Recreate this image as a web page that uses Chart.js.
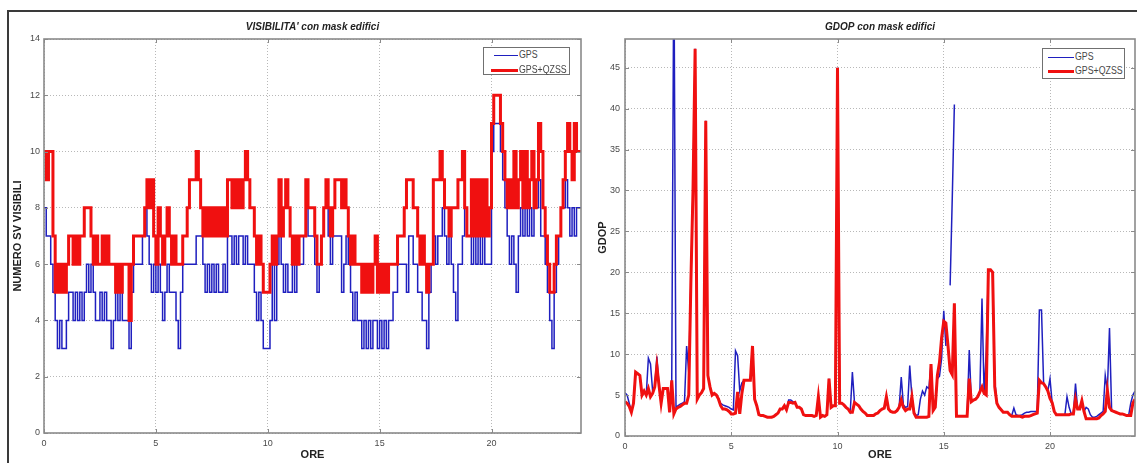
<!DOCTYPE html>
<html>
<head>
<meta charset="utf-8">
<script src="https://cdn.jsdelivr.net/npm/chart.js@4.4.0/dist/chart.umd.min.js"></script>
<style>
  html, body { margin: 0; padding: 0; background: #fff; }
  #wrap { position: relative; width: 1137px; height: 463px; overflow: hidden;
          font-family: "Liberation Sans", Arial, sans-serif; }
  #frame { position: absolute; left: 7px; top: 10px; width: 1145px; height: 470px;
           border: 2px solid #3a3a3a; box-sizing: border-box; }
  canvas { position: absolute; top: 0; }
  #cVis { left: 0; }
  #cGdop { left: 585px; }
  .legend { position: absolute; background: #fff; border: 1px solid #707070; box-sizing: border-box;
            font-size: 10px; color: #474747; }
  .legend .ln { position: absolute; height: 0; }
  .legend .tx { position: absolute; line-height: 12px; white-space: nowrap;
                transform: scaleX(0.88); transform-origin: 0 50%; }
</style>
</head>
<body>
<div id="wrap">
  <div id="frame"></div>
  <canvas id="cVis" width="585" height="463"></canvas>
  <canvas id="cGdop" width="552" height="463"></canvas>

  <div class="legend" style="left:483px; top:47px; width:87px; height:28px;">
    <div class="ln" style="left:10px; width:24px; top:7px; border-top:1.5px solid #1f1fbf;"></div>
    <div class="tx" style="left:35px; top:1px;">GPS</div>
    <div class="ln" style="left:7px; width:27px; top:21px; border-top:3px solid #f01010;"></div>
    <div class="tx" style="left:35px; top:16px;">GPS+QZSS</div>
  </div>
  <div class="legend" style="left:1042px; top:48px; width:83px; height:31px;">
    <div class="ln" style="left:5px; width:26px; top:8px; border-top:1.5px solid #1f1fbf;"></div>
    <div class="tx" style="left:32px; top:2px;">GPS</div>
    <div class="ln" style="left:5px; width:26px; top:21px; border-top:3px solid #f01010;"></div>
    <div class="tx" style="left:32px; top:16px;">GPS+QZSS</div>
  </div>
</div>

<script>
// one sample every 0.1 h, 10 values per hour row, last value at 24.0 h
const SAMPLE_STEP = 0.1;

// numero di satelliti visibili
const visGps = [
  8,7,7,6,5,4,3,4,3,3,
  4,5,5,4,5,4,5,4,5,6,
  5,6,5,4,4,5,4,5,4,4,
  3,4,5,4,5,4,4,4,3,5,
  6,6,6,6,7,8,7,6,5,6,
  5,6,5,4,5,6,5,5,5,4,
  3,5,6,6,6,6,6,6,7,7,
  7,6,5,6,5,6,5,6,5,5,
  6,5,7,7,6,7,6,7,7,6,
  7,6,6,6,5,4,5,4,3,3,
  3,4,6,4,6,7,6,5,6,5,
  5,6,5,6,6,6,7,8,7,7,
  7,6,5,6,7,8,8,7,6,7,
  7,7,7,5,6,7,6,5,4,5,
  4,4,3,4,3,4,3,4,4,3,
  4,3,4,3,4,4,5,5,6,6,
  6,6,5,7,7,6,6,5,5,4,
  4,3,5,6,7,6,7,7,8,7,
  6,7,6,5,4,6,6,7,8,7,
  7,6,7,6,7,6,7,6,6,6,
  10,11,11,11,10,9,8,7,6,7,
  6,5,7,8,7,8,7,8,7,8,
  8,9,7,7,6,5,4,3,5,6,
  7,8,8,9,8,7,8,7,8,8,
  8
];
const visGpsQzss = [
  10,9,10,10,7,5,6,5,6,5,
  6,7,7,6,7,6,7,7,8,8,
  8,7,6,7,6,6,7,6,7,6,
  6,6,5,6,5,6,6,6,4,6,
  7,7,7,7,7,8,9,8,9,7,
  6,8,7,6,7,8,7,6,7,6,
  6,6,7,7,8,9,9,9,10,9,
  8,7,8,7,8,7,8,7,8,7,
  8,7,9,9,8,9,8,9,8,9,
  10,9,8,8,7,6,7,6,5,5,
  5,6,7,6,7,9,7,8,9,8,
  7,6,7,6,7,7,7,9,8,8,
  8,7,6,6,7,8,9,8,7,8,
  9,9,9,8,9,8,7,6,7,6,
  6,6,5,6,5,6,5,6,7,5,
  6,5,6,5,6,6,6,6,7,7,
  7,8,9,9,9,8,8,7,6,7,
  6,5,6,6,9,9,9,10,9,8,
  8,7,8,8,8,9,9,10,8,7,
  7,9,7,9,7,9,7,9,7,8,
  11,12,12,12,11,10,9,8,9,8,
  10,8,9,10,8,10,8,9,10,8,
  9,11,10,8,7,6,5,5,6,7,
  7,8,9,10,11,10,9,11,10,10,
  10
];

// GDOP (null = soluzione non disponibile)
const gdopGps = [
  5.3,5.0,4.0,3.0,4.2,7.8,7.6,7.4,5.0,5.5,
  5.0,9.5,8.8,5.5,6.0,9.7,6.2,4.0,5.8,5.8,
  5.8,2.9,6.8,60,3.5,3.7,3.9,4.0,4.2,11.0,
  7.8,18.8,30.0,47.3,4.5,5.0,5.3,5.8,38.5,7.4,
  6.0,5.0,5.2,5.0,4.6,4.0,3.8,3.7,3.6,3.5,
  3.3,3.2,10.4,9.8,5.5,6.5,6.8,6.8,6.8,7.0,
  11.0,4.5,3.7,2.6,2.5,2.5,2.4,2.3,2.3,2.3,
  2.4,2.6,2.8,3.3,3.3,3.7,3.2,4.4,4.4,4.2,
  4.1,3.5,3.5,3.3,2.6,2.5,2.5,2.5,2.5,2.4,
  2.5,4.8,2.3,2.5,2.4,2.6,7.0,3.5,3.7,3.7,
  45.0,4.0,4.0,3.8,3.5,3.3,2.9,7.8,4.1,3.9,
  3.7,3.3,3.0,2.8,2.5,2.5,2.5,2.5,2.7,2.8,
  3.1,3.3,3.4,4.8,3.3,3.0,2.9,2.9,3.1,3.5,
  7.2,3.8,3.5,3.6,8.6,4.8,2.9,2.5,2.6,4.5,
  5.5,5.0,6.0,5.8,8.8,3.1,3.5,7.0,7.3,9.5,
  15.3,11.0,null,18.4,29.0,40.5,null,2.4,2.4,2.4,
  2.4,2.4,10.5,4.2,4.4,4.5,4.8,5.4,16.8,5.0,
  10.4,20.3,20.3,20.0,6.8,4.0,3.5,3.2,2.9,2.9,
  2.9,2.6,2.5,3.4,2.6,2.5,2.5,2.6,2.8,2.9,
  2.9,3.0,3.0,3.0,3.0,15.4,15.4,6.4,6.0,5.5,
  7.0,4.1,3.0,2.6,2.6,2.6,2.6,2.6,4.8,3.5,
  2.7,2.7,6.4,3.3,3.3,4.3,3.0,3.5,3.3,2.6,
  2.3,2.3,2.4,2.6,2.8,3.0,7.4,5.6,13.2,3.1,
  3.0,2.9,2.8,2.7,2.7,2.6,2.5,2.5,4.0,5.0,
  5.5
];
const gdopGpsQzss = [
  4.2,4.0,3.6,2.9,4.0,7.8,7.6,7.4,5.0,5.5,
  5.0,5.8,4.8,5.2,6.0,8.5,6.2,4.0,5.8,5.8,
  5.8,2.9,6.8,2.7,3.3,3.5,3.6,3.8,4.0,4.0,
  5.0,18.8,30.0,47.3,4.5,5.0,5.3,5.8,38.5,7.4,
  6.0,5.0,5.2,5.0,4.5,3.7,3.3,3.3,3.2,3.0,
  2.7,2.7,2.8,5.4,2.7,5.2,6.8,6.8,6.8,6.8,
  11.0,4.5,3.7,2.6,2.5,2.5,2.4,2.3,2.3,2.3,
  2.4,2.6,2.8,3.3,3.3,3.7,3.2,4.1,4.1,4.0,
  4.1,3.5,3.5,3.3,2.6,2.5,2.5,2.5,2.5,2.4,
  2.5,4.8,2.3,2.5,2.4,2.6,7.0,3.5,3.7,3.7,
  45.0,4.0,4.0,3.8,3.5,3.3,2.9,2.9,4.1,3.9,
  3.7,3.3,3.0,2.8,2.5,2.5,2.5,2.5,2.7,2.8,
  3.1,3.3,3.4,4.8,3.3,3.0,2.9,2.9,3.1,3.5,
  4.4,3.5,3.1,3.3,3.3,4.8,2.8,2.3,2.3,2.3,
  2.3,2.3,2.3,2.4,8.8,3.1,3.5,7.4,9.0,12.0,
  14.0,13.8,11.0,8.0,7.5,16.2,2.4,2.4,2.4,2.4,
  2.4,2.4,7.0,4.2,4.4,4.5,4.8,5.4,6.0,5.2,
  5.0,20.3,20.3,20.0,6.0,4.0,3.5,3.2,2.9,2.9,
  2.9,2.6,2.4,2.4,2.4,2.4,2.4,2.3,2.4,2.4,
  2.4,2.5,2.6,2.7,2.8,6.8,6.5,6.4,6.0,5.5,
  4.6,4.1,3.0,2.6,2.6,2.6,2.6,2.6,2.6,2.6,
  2.7,2.7,4.5,3.3,3.3,4.3,3.0,2.1,2.1,2.1,
  2.1,2.1,2.1,2.2,2.5,2.7,3.0,5.6,3.5,3.1,
  3.0,2.9,2.8,2.7,2.7,2.6,2.5,2.5,2.5,4.0,
  4.5
];

const hourTicks = [0, 5, 10, 15, 20];
const visTicks = [0, 2, 4, 6, 8, 10, 12, 14];
const gdopTicks = [0, 5, 10, 15, 20, 25, 30, 35, 40, 45];

const BLUE = '#1f1fbf';
const RED = '#f01010';

Chart.defaults.font.family = '"Liberation Sans", Arial, sans-serif';

function toPoints(vals) {
  return vals.map((v, i) => ({ x: Math.round(i * SAMPLE_STEP * 10) / 10, y: v }));
}

function keepTicks(list) {
  return (scale) => { scale.ticks = list.map(v => ({ value: v })); };
}

// matlab style box around the axes with small inward ticks
const boxPlugin = {
  id: 'matlabBox',
  afterDraw(chart) {
    const { ctx, chartArea: a, scales } = chart;
    ctx.save();
    ctx.strokeStyle = '#8a8a8a';
    ctx.lineWidth = 1;
    ctx.beginPath();
    scales.x.ticks.forEach(t => {
      const px = Math.round(scales.x.getPixelForValue(t.value)) + 0.5;
      ctx.moveTo(px, a.bottom); ctx.lineTo(px, a.bottom - 4);
      ctx.moveTo(px, a.top); ctx.lineTo(px, a.top + 4);
    });
    scales.y.ticks.forEach(t => {
      const py = Math.round(scales.y.getPixelForValue(t.value)) + 0.5;
      ctx.moveTo(a.left, py); ctx.lineTo(a.left + 4, py);
      ctx.moveTo(a.right, py); ctx.lineTo(a.right - 4, py);
    });
    ctx.stroke();
    ctx.lineWidth = 1.6;
    ctx.strokeRect(a.left, a.top, a.right - a.left, a.bottom - a.top);
    ctx.restore();
  }
};

function makeOptions(cfg) {
  return {
    responsive: false,
    animation: false,
    devicePixelRatio: 1,
    layout: { padding: { left: 0, right: cfg.padRight, top: 0, bottom: 0 } },
    elements: { point: { radius: 0 } },
    plugins: {
      legend: { display: false },
      tooltip: { enabled: false },
      title: {
        display: true,
        fullSize: false,
        text: cfg.title,
        color: '#222',
        font: { size: 10, style: 'italic', weight: 'bold' },
        padding: { top: 21, bottom: 6 }
      }
    },
    scales: {
      x: {
        type: 'linear',
        min: 0, max: 24,
        afterBuildTicks: keepTicks(hourTicks),
        afterFit: (s) => { s.height = cfg.xHeight; },
        grid: { color: '#b8b8b8', lineWidth: 1, drawTicks: false },
        border: { display: false, dash: [1, 2] },
        ticks: { color: '#4a4a4a', font: { size: 9 }, padding: 5, maxRotation: 0 },
        title: { display: true, text: 'ORE', color: '#222', font: { size: 11, weight: 'bold' },
                 padding: { top: 0, bottom: 1.5 } }
      },
      y: {
        min: 0, max: cfg.yMax,
        afterBuildTicks: keepTicks(cfg.yTicks),
        afterFit: (s) => { s.width = cfg.yWidth; },
        grid: { color: '#b8b8b8', lineWidth: 1, drawTicks: false },
        border: { display: false, dash: [1, 2] },
        ticks: { color: '#4a4a4a', font: { size: 9 }, padding: cfg.yPad },
        title: { display: true, text: cfg.yTitle, color: '#222', font: { size: 11, weight: 'bold' },
                 padding: { top: 11, bottom: 0 } }
      }
    }
  };
}

new Chart(document.getElementById('cVis'), {
  type: 'line',
  data: {
    datasets: [
      { label: 'GPS+QZSS', data: toPoints(visGpsQzss), borderColor: RED, borderWidth: 3, stepped: true, fill: false },
      { label: 'GPS', data: toPoints(visGps), borderColor: BLUE, borderWidth: 1.5, stepped: true, fill: false }
    ]
  },
  options: makeOptions({
    title: "VISIBILITA' con mask edifici",
    yTitle: 'NUMERO SV VISIBILI',
    yMax: 14, yTicks: visTicks, yWidth: 44, yPad: 4, xHeight: 30, padRight: 4
  }),
  plugins: [boxPlugin]
});

new Chart(document.getElementById('cGdop'), {
  type: 'line',
  data: {
    datasets: [
      { label: 'GPS+QZSS', data: toPoints(gdopGpsQzss), borderColor: RED, borderWidth: 3, tension: 0, fill: false },
      { label: 'GPS', data: toPoints(gdopGps), borderColor: BLUE, borderWidth: 1.5, tension: 0, fill: false }
    ]
  },
  options: makeOptions({
    title: 'GDOP con mask edifici',
    yTitle: 'GDOP',
    yMax: 48.5, yTicks: gdopTicks, yWidth: 40, yPad: 5, xHeight: 27, padRight: 2
  }),
  plugins: [boxPlugin]
});
</script>
</body>
</html>
